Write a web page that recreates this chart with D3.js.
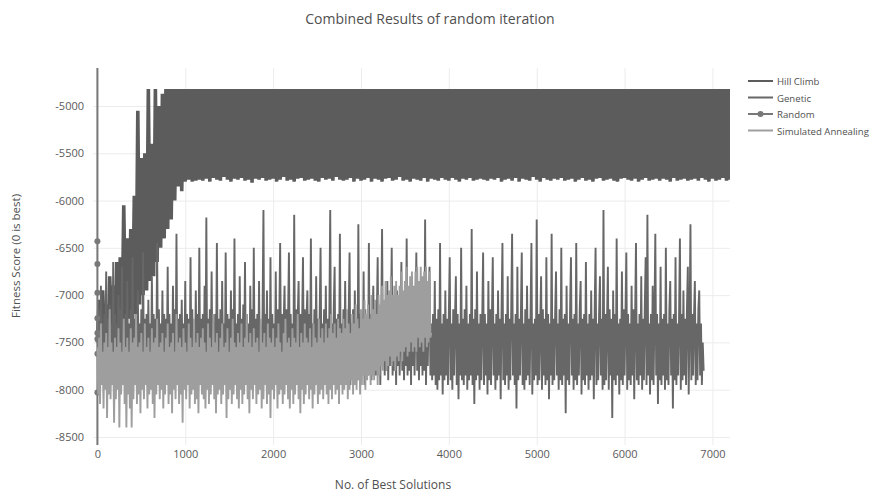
<!DOCTYPE html>
<html>
<head>
<meta charset="utf-8">
<script src="https://cdn.jsdelivr.net/npm/d3@7"></script>
<style>
  body { margin: 0; background: #fff; font-family: "Open Sans", sans-serif; }
</style>
</head>
<body>
<svg id="chart" width="870" height="492"></svg>
<script>
// sampling interval (iterations) of each stored series, all starting at 0
const hillClimbStep = 20;
const geneticStep = 10;
const annealingStep = 10;

const hillClimb = [
  -7500,-7050,-7650,-6950,-7450,-7100,-7700,-6800,-7400,-6900,-7550,-6650,-7350,-6600,-7450,-6050,-7300,-6400,-7250,-6300,
  -7350,-5950,-7200,-5050,-7100,-5550,-7000,-5500,-6950,-4820,-6850,-5400,-6800,-4820,-6650,-5000,-6500,-4870,-6400,-4820,
  -6300,-4820,-6200,-4820,-6000,-4820,-5850,-4820,-5900,-4820,-5800,-4820,-5780,-4820,-5800,-4820,-5790,-4820,-5780,-4820,
  -5790,-4820,-5770,-4820,-5800,-4820,-5760,-4820,-5780,-4820,-5790,-4820,-5750,-4820,-5780,-4820,-5800,-4820,-5770,-4820,
  -5780,-4820,-5760,-4820,-5790,-4820,-5780,-4820,-5810,-4820,-5770,-4820,-5780,-4820,-5760,-4820,-5790,-4820,-5780,-4820,
  -5770,-4820,-5800,-4820,-5780,-4820,-5750,-4820,-5790,-4820,-5780,-4820,-5800,-4820,-5770,-4820,-5760,-4820,-5790,-4820,
  -5780,-4820,-5770,-4820,-5790,-4820,-5800,-4820,-5760,-4820,-5780,-4820,-5770,-4820,-5790,-4820,-5750,-4820,-5780,-4820,
  -5790,-4820,-5780,-4820,-5760,-4820,-5800,-4820,-5770,-4820,-5790,-4820,-5780,-4820,-5760,-4820,-5800,-4820,-5770,-4820,
  -5780,-4820,-5800,-4820,-5770,-4820,-5760,-4820,-5790,-4820,-5780,-4820,-5750,-4820,-5790,-4820,-5780,-4820,-5800,-4820,
  -5770,-4820,-5780,-4820,-5790,-4820,-5760,-4820,-5800,-4820,-5770,-4820,-5780,-4820,-5790,-4820,-5760,-4820,-5780,-4820,
  -5790,-4820,-5760,-4820,-5780,-4820,-5800,-4820,-5770,-4820,-5780,-4820,-5760,-4820,-5790,-4820,-5780,-4820,-5770,-4820,
  -5780,-4820,-5790,-4820,-5770,-4820,-5780,-4820,-5760,-4820,-5800,-4820,-5780,-4820,-5770,-4820,-5790,-4820,-5760,-4820,
  -5800,-4820,-5770,-4820,-5780,-4820,-5790,-4820,-5750,-4820,-5780,-4820,-5800,-4820,-5760,-4820,-5780,-4820,-5790,-4820,
  -5770,-4820,-5780,-4820,-5760,-4820,-5790,-4820,-5780,-4820,-5770,-4820,-5800,-4820,-5780,-4820,-5760,-4820,-5790,-4820,
  -5780,-4820,-5800,-4820,-5770,-4820,-5760,-4820,-5790,-4820,-5780,-4820,-5770,-4820,-5790,-4820,-5800,-4820,-5770,-4820,
  -5760,-4820,-5780,-4820,-5790,-4820,-5770,-4820,-5800,-4820,-5780,-4820,-5760,-4820,-5790,-4820,-5780,-4820,-5770,-4820,
  -5790,-4820,-5770,-4820,-5780,-4820,-5800,-4820,-5760,-4820,-5790,-4820,-5780,-4820,-5770,-4820,-5790,-4820,-5780,-4820,
  -5770,-4820,-5790,-4820,-5760,-4820,-5780,-4820,-5800,-4820,-5770,-4820,-5790,-4820,-5780,-4820,-5760,-4820,-5790,-4820,
  -5780
];

const genetic = [
  -7250,-7800,-7150,-7900,-6900,-7750,-7300,-7850,-7200,-7700,-6750,-7950,-7250,-7800,-7100,-7850,-7300,-7700,-6650,-7900,
  -7200,-7800,-7300,-7750,-7000,-7900,-7150,-7850,-6700,-7800,-7250,-7950,-7200,-7750,-6850,-7800,-7300,-7900,-7150,-7700,
  -6600,-7850,-7250,-7800,-7200,-7950,-6950,-7750,-7300,-7850,-7150,-7800,-6550,-7900,-7250,-7750,-7200,-7850,-7050,-7800,
  -7300,-7950,-6800,-7750,-7200,-7850,-7250,-7800,-6450,-7900,-7150,-7750,-7300,-7850,-6950,-7800,-7200,-7950,-7250,-7750,
  -6700,-7850,-7200,-7800,-7300,-7900,-6900,-7750,-7150,-7850,-6350,-7800,-7250,-7950,-7200,-7750,-7050,-7850,-7300,-7800,
  -6850,-7900,-7200,-7750,-7250,-7850,-6600,-7800,-7150,-7950,-7300,-7750,-6950,-7850,-7200,-7800,-6500,-7900,-7250,-7750,
  -7200,-7850,-6900,-7800,-6180,-7950,-7250,-7750,-7150,-7850,-6750,-7800,-7300,-7900,-7200,-7750,-6450,-7850,-7250,-7800,
  -7150,-7900,-6850,-7750,-7300,-7850,-6550,-7800,-7200,-7950,-7250,-7750,-6950,-7850,-7150,-7800,-6400,-7900,-7300,-7750,
  -7200,-7850,-6800,-7800,-7250,-7950,-7100,-7750,-6650,-7850,-7200,-7800,-7300,-7900,-6900,-7750,-7150,-7850,-6500,-7800,
  -7250,-7950,-7200,-7750,-6850,-7850,-7300,-7800,-7150,-6100,-7900,-7200,-7750,-6950,-7850,-7250,-7800,-6600,-7950,-7200,
  -7750,-7300,-7850,-6750,-7800,-7150,-7900,-7250,-6450,-7750,-7200,-7850,-7300,-6900,-7800,-7150,-7950,-7250,-6550,-7750,
  -7200,-7850,-7300,-7800,-6150,-7900,-7150,-7750,-7250,-6850,-7850,-7200,-7800,-7300,-6600,-7950,-7150,-7750,-7250,-6950,
  -7850,-7200,-7800,-6400,-7900,-7300,-7750,-7150,-7850,-6800,-7800,-7250,-7950,-7200,-6500,-7750,-7300,-7850,-7150,-7800,
  -6900,-7900,-7250,-7750,-7200,-6100,-7850,-7300,-7800,-7150,-6700,-7950,-7250,-7750,-7200,-7850,-6350,-7800,-7300,-7900,
  -7150,-7750,-6850,-7850,-7250,-7800,-7200,-6550,-7950,-7300,-7750,-7150,-7850,-6950,-7800,-7250,-7900,-6250,-7750,-7200,
  -7850,-7300,-7800,-6750,-7950,-7150,-7750,-7250,-7850,-6450,-7800,-7200,-7900,-7300,-6900,-7750,-7150,-7850,-7250,-6600,
  -7800,-7200,-7950,-7300,-6300,-7750,-7150,-7850,-7250,-7800,-6850,-7900,-7200,-7750,-7300,-6500,-7850,-7150,-7800,-7250,
  -7950,-6950,-7750,-7200,-7850,-7300,-6650,-7800,-7150,-7900,-7250,-7750,-6400,-7850,-7200,-7800,-7300,-7950,-6800,-7750,
  -7150,-7850,-7250,-6550,-7800,-7200,-7900,-7300,-7750,-6950,-7850,-7150,-7800,-6200,-7950,-7250,-7750,-7200,-6700,-7850,
  -7300,-7900,-7200,-7850,-6850,-7950,-7250,-8000,-7150,-7900,-6450,-7850,-7300,-8050,-7200,-7900,-6950,-7850,-7250,-7950,
  -7200,-6600,-7900,-7300,-8000,-7150,-7850,-7250,-6800,-7950,-7200,-8100,-7300,-7850,-6500,-7900,-7250,-7950,-7150,-7850,
  -6900,-8000,-7300,-7900,-7200,-7850,-6300,-7950,-7250,-8150,-7150,-7900,-6750,-7850,-7300,-8000,-7200,-7900,-7250,-6550,
  -7950,-7200,-7850,-7300,-8050,-6850,-7900,-7150,-7950,-7250,-6600,-7850,-7300,-8000,-7200,-7900,-6950,-7850,-7250,-8100,
  -7150,-6450,-7900,-7300,-7950,-7200,-7850,-6800,-8000,-7250,-7900,-7150,-6350,-7850,-7300,-7950,-7200,-8200,-6700,-7900,
  -7250,-7850,-7200,-6550,-7950,-7300,-8000,-7150,-7900,-6900,-7850,-7250,-7950,-7200,-6450,-8050,-7300,-7900,-7250,-7850,
  -6200,-7950,-7200,-7900,-7300,-6800,-8000,-7150,-7850,-7250,-7950,-6600,-7900,-7200,-8100,-7300,-7850,-6350,-7950,-7250,
  -7900,-7200,-6750,-7850,-7300,-8000,-7150,-7900,-6500,-7950,-7250,-7850,-7200,-8250,-6900,-7900,-7300,-7950,-7150,-6600,
  -7850,-7250,-8000,-7200,-7900,-6450,-7950,-7300,-7850,-7150,-6850,-8050,-7250,-7900,-7200,-7950,-6650,-7850,-7300,-8000,
  -7200,-7900,-6950,-7850,-7250,-8100,-7150,-6500,-7950,-7300,-7900,-7200,-6800,-7850,-7250,-8000,-6100,-7950,-7200,-7900,
  -7300,-6700,-8000,-7150,-7850,-7250,-8300,-6950,-7900,-7200,-7950,-6400,-7850,-7300,-8050,-7250,-7900,-6750,-7950,-7150,
  -7850,-7250,-6550,-8000,-7200,-7900,-7300,-7950,-6900,-7850,-7150,-8100,-7250,-6450,-7900,-7300,-7950,-7200,-7850,-6800,
  -8000,-7250,-7900,-7150,-6600,-7950,-6150,-7850,-7300,-8050,-7200,-7900,-6900,-7950,-7250,-6350,-7850,-7200,-8150,-7300,
  -7900,-6700,-7950,-7250,-7850,-7200,-8000,-6500,-7900,-7300,-7950,-7150,-6850,-7850,-7250,-8200,-7200,-7900,-6600,-7950,
  -7300,-7850,-7250,-6400,-8000,-7200,-7900,-6950,-7850,-7250,-7950,-7150,-6700,-8050,-7300,-6250,-7900,-7200,-7850,-7250,
  -6850,-7950,-7300,-7900,-7150,-6950,-7850,-7300,-7950,-7500,-7800
];

// random restarts all sit at iteration 0
const randomIter = [0, 0, 0, 0, 0, 0, 0, 0, 0, 0];
const randomScore = [-4200, -6430, -6670, -6975, -7245, -7400, -7465, -7620, -8030, -8900];

const annealing = [
  -7550,-8050,-7450,-8150,-7300,-7950,-7600,-8200,-7500,-8000,-7400,-8300,-7550,-8050,-7150,-8100,-7500,-7950,-7600,-8350,
  -7450,-8100,-7550,-8000,-7350,-8400,-7500,-8050,-7600,-7950,-7250,-8150,-7550,-8400,-7450,-8050,-7600,-8200,-7350,-8400,
  -7500,-8100,-7450,-7950,-7200,-8150,-7550,-8050,-7500,-8250,-7400,-8000,-7600,-8100,-7300,-7950,-7550,-8200,-7450,-8050,
  -7600,-8000,-7350,-8150,-7500,-8300,-7450,-8050,-7250,-7950,-7550,-8100,-7500,-8000,-7400,-8200,-7600,-8050,-7450,-7950,
  -7300,-8150,-7550,-8050,-7500,-8250,-7400,-8000,-7600,-8100,-7200,-7950,-7500,-8150,-7450,-8050,-7550,-8350,-7350,-8000,
  -7500,-8100,-7600,-7950,-7300,-8200,-7450,-8050,-7550,-8000,-7250,-8150,-7500,-8100,-7400,-8250,-7550,-7950,-7450,-8050,
  -7350,-8100,-7500,-8200,-7600,-8000,-7300,-8150,-7450,-8050,-7550,-7950,-7200,-8100,-7500,-8250,-7400,-8050,-7600,-8000,
  -7450,-8150,-7300,-8050,-7550,-7950,-7500,-8300,-7350,-8100,-7600,-8000,-7450,-8150,-7250,-8050,-7500,-7950,-7550,-8100,
  -7400,-8200,-7500,-8000,-7300,-8150,-7550,-8050,-7450,-7950,-7200,-8100,-7500,-8250,-7400,-8000,-7550,-8100,-7350,-7950,
  -7500,-8150,-7450,-8050,-7600,-8000,-7250,-8200,-7500,-8100,-7400,-7950,-7550,-8150,-7300,-8050,-7450,-8300,-7500,-8000,
  -7350,-8100,-7550,-7950,-7450,-8200,-7300,-8050,-7500,-8000,-7600,-8150,-7400,-8050,-7250,-7950,-7500,-8100,-7450,-8200,
  -7550,-8000,-7350,-8150,-7450,-8050,-7500,-7950,-7200,-8100,-7550,-8250,-7400,-8000,-7500,-8150,-7300,-8050,-7450,-7950,
  -7500,-8100,-7350,-8000,-7550,-8200,-7300,-8050,-7450,-7950,-7500,-8150,-7250,-8050,-7450,-8000,-7350,-8100,-7500,-7950,
  -7300,-8050,-7450,-8150,-7350,-8000,-7200,-8100,-7400,-7950,-7300,-8050,-7450,-8000,-7250,-8150,-7350,-7950,-7400,-8050,
  -7250,-8000,-7350,-7950,-7150,-8100,-7300,-8000,-7400,-7900,-7200,-8050,-7300,-7950,-7100,-8000,-7250,-7900,-7350,-8050,
  -7150,-7950,-7250,-7850,-7050,-8000,-7200,-7900,-7100,-7850,-7250,-7950,-7000,-7850,-7150,-7900,-7050,-7800,-7200,-7950,
  -7000,-7850,-7100,-7750,-6900,-7800,-7050,-7700,-6850,-7800,-7000,-7750,-6950,-7650,-6800,-7750,-7000,-7700,-6900,-7800,
  -6850,-7650,-7000,-7700,-6900,-7600,-6750,-7700,-6950,-7600,-6850,-7550,-6700,-7650,-6900,-7600,-6800,-7500,-6750,-7600,
  -6900,-7550,-6750,-7600,-6700,-7450,-6850,-7550,-6700,-7500,-6800,-7600,-6750,-7450,-6700,-7550,-6850,-7500,-6750,-7450,
  -7400
];

const seriesNames = ["Hill Climb", "Genetic", "Random", "Simulated Annealing"];
const seriesColors = ["#5c5c5c", "#676767", "#787878", "#9e9e9e"];
const xTicks = [0, 1000, 2000, 3000, 4000, 5000, 6000, 7000];
const yTicks = [-8500, -8000, -7500, -7000, -6500, -6000, -5500, -5000];

const svg = d3.select('#chart');
const plotL = 93, plotR = 730, plotT = 68, plotB = 445;

const x = d3.scaleLinear().domain([-50, 7200]).range([plotL, plotR]);
const y = d3.scaleLinear().domain([-8585, -4598]).range([plotB, plotT]);

svg.append('defs').append('clipPath').attr('id', 'plot-clip')
  .append('rect').attr('x', plotL).attr('y', plotT)
  .attr('width', plotR - plotL).attr('height', plotB - plotT);

// grid + axes
const yAxis = svg.append('g')
  .attr('transform', `translate(${plotL},0)`)
  .call(d3.axisLeft(y).tickValues(yTicks).tickSize(-(plotR - plotL)).tickPadding(9)
    .tickFormat(d => String(d)));
const xAxis = svg.append('g')
  .attr('transform', `translate(0,${plotB})`)
  .call(d3.axisBottom(x).tickValues(xTicks).tickSize(-(plotB - plotT)).tickPadding(5)
    .tickFormat(d => String(d)));
[yAxis, xAxis].forEach(g => {
  g.select('.domain').remove();
  g.selectAll('line').attr('stroke', '#ececec');
  g.selectAll('text').attr('fill', '#5a5a5a').style('font-size', '11px')
    .style('font-family', '"Open Sans", sans-serif');
});

const plot = svg.append('g').attr('clip-path', 'url(#plot-clip)');
const line = d3.line().x(d => x(d[0])).y(d => y(d[1]));

const stepped = (vals, step) => vals.map((v, i) => [i * step, v]);

// samples sit a pixel or two apart, so the stroke has to be wide enough to close the band
function drawSeries(pts, color, width) {
  plot.append('path').datum(pts)
    .attr('fill', 'none').attr('stroke', color).attr('stroke-width', width)
    .attr('stroke-linejoin', 'bevel')
    .attr('d', line);
}

drawSeries(stepped(hillClimb, hillClimbStep), seriesColors[0], 3.6);
drawSeries(stepped(genetic, geneticStep), seriesColors[1], 1.9);

const randomPts = randomScore.map((v, i) => [randomIter[i], v]);
drawSeries(randomPts, seriesColors[2], 2);
plot.selectAll('circle.rnd').data(randomPts).enter().append('circle')
  .attr('class', 'rnd')
  .attr('cx', d => x(d[0])).attr('cy', d => y(d[1])).attr('r', 3)
  .attr('fill', seriesColors[2]);

drawSeries(stepped(annealing, annealingStep), seriesColors[3], 1.9);

// title and axis labels
svg.append('text').attr('x', 430).attr('y', 24).attr('text-anchor', 'middle')
  .attr('fill', '#505050').style('font-size', '14px').text('Combined Results of random iteration');
svg.append('text').attr('x', 393).attr('y', 489).attr('text-anchor', 'middle')
  .attr('fill', '#505050').style('font-size', '12px').text('No. of Best Solutions');
svg.append('text').attr('transform', 'translate(20,256) rotate(-90)').attr('text-anchor', 'middle')
  .attr('fill', '#505050').style('font-size', '11.5px').text('Fitness Score (0 is best)');

// legend
const legend = svg.append('g').attr('transform', 'translate(748,81)');
seriesNames.forEach((name, i) => {
  const g = legend.append('g').attr('transform', `translate(0,${i * 16.5})`);
  g.append('line').attr('x1', 0).attr('x2', 25).attr('y1', 0).attr('y2', 0)
    .attr('stroke', seriesColors[i]).attr('stroke-width', 2);
  if (name === 'Random') {
    g.append('circle').attr('cx', 12.5).attr('cy', 0).attr('r', 3).attr('fill', seriesColors[i]);
  }
  g.append('text').attr('x', 29).attr('y', 4).attr('fill', '#505050')
    .style('font-size', '9.6px').text(name);
});
</script>
</body>
</html>
